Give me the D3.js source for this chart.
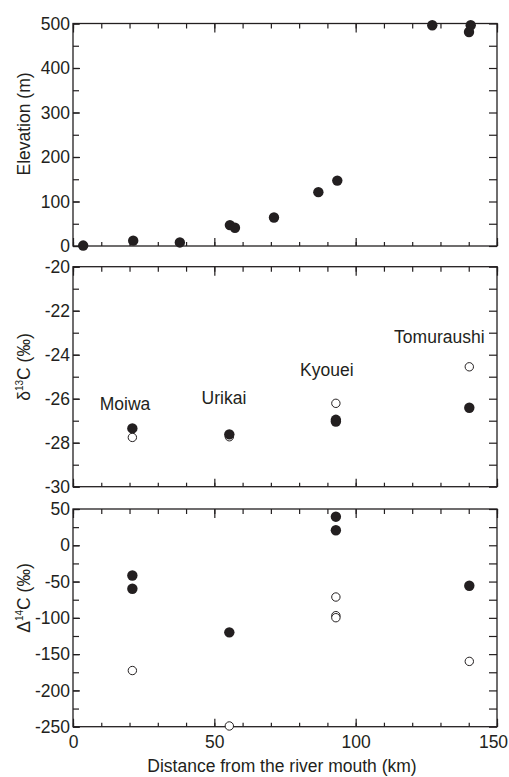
<!DOCTYPE html>
<html>
<head>
<meta charset="utf-8">
<script src="https://cdn.jsdelivr.net/npm/d3@7"></script>
<style>
  body { margin: 0; background: #fff; }
  svg { display: block; font-family: "Liberation Sans", Arial, sans-serif; }
  .axis text { font-size: 17.5px; fill: #231f20; font-family: "Liberation Sans", Arial, sans-serif; }
  .axis line { stroke: #231f20; stroke-width: 1.2; }
  .axis .domain { display: none; }
</style>
</head>
<body>
<svg id="chart" width="509" height="777"></svg>
<script>
// [distance km, value]
const elevation = [[3.6, 1], [21.3, 12], [37.8, 8], [55.5, 47], [57.3, 41], [71.1, 64],
                   [86.8, 121], [93.5, 147], [127.1, 496], [140.7, 496], [140.1, 481]];
const d13cOpen   = [[21, -27.76], [55.3, -27.73], [93, -26.21], [140.2, -24.55]];
const d13cFilled = [[21, -27.35], [55.3, -27.62], [93, -26.96], [93, -27.04], [140.2, -26.41]];
const d14cOpen   = [[21, -172.6], [55.3, -249], [93, -71.3], [93, -97], [93, -99.8], [140.2, -160]];
const d14cFilled = [[21, -41.6], [21, -59.9], [55.3, -120], [93, 39.4], [93, 20.7], [140.2, -55.8]];

const siteNames   = ["Moiwa", "Urikai", "Kyouei", "Tomuraushi"];
const siteLabelKm = [18.4, 53.4, 89.8, 129.6];
const siteLabelD13 = [-26.51, -26.24, -24.97, -23.45];

const xTicks    = [0, 50, 100, 150];
const xMinor    = d3.range(0, 151, 10);
const elevTicks = [0, 100, 200, 300, 400, 500];
const d13Ticks  = [-30, -28, -26, -24, -22, -20];
const d14Ticks  = [-250, -200, -150, -100, -50, 0, 50];

const INK = "#231f20";
const FS = 17.5;
const LEFT = 73, RIGHT = 497;

const svg = d3.select("#chart");
const x = d3.scaleLinear().domain([0, 150]).range([LEFT, RIGHT]);

const panels = [
  { top: 23.5, bottom: 246,   domain: [0, 500],    ticks: elevTicks, step: 50,
    open: [], filled: elevation, title: "elev", titleY: 124 },
  { top: 266.7, bottom: 486.7, domain: [-30, -20], ticks: d13Ticks, step: 1,
    open: d13cOpen, filled: d13cFilled, title: "d13", titleY: 367 },
  { top: 509, bottom: 726.7,  domain: [-250, 50],  ticks: d14Ticks, step: 25,
    open: d14cOpen, filled: d14cFilled, title: "d14", titleY: 598 }
];

panels.forEach((p, i) => {
  const y = d3.scaleLinear().domain(p.domain).range([p.bottom, p.top]);
  const minor = d3.range(p.domain[0], p.domain[1] + p.step / 2, p.step);
  const g = svg.append("g");
  const isLast = i === panels.length - 1;

  // left
  g.append("g").attr("class", "axis").attr("transform", `translate(${LEFT},0)`)
    .call(d3.axisLeft(y).tickValues(minor).tickSize(-6).tickFormat(""));
  g.append("g").attr("class", "axis").attr("transform", `translate(${LEFT},0)`)
    .call(d3.axisLeft(y).tickValues(p.ticks).tickSize(-7).tickPadding(3).tickFormat(d => String(d)));
  // right
  g.append("g").attr("class", "axis").attr("transform", `translate(${RIGHT},0)`)
    .call(d3.axisRight(y).tickValues(minor).tickSize(-8).tickFormat(""));
  // top
  g.append("g").attr("class", "axis").attr("transform", `translate(0,${p.top})`)
    .call(d3.axisTop(x).tickValues(xMinor).tickSize(-5).tickFormat(""));
  g.append("g").attr("class", "axis").attr("transform", `translate(0,${p.top})`)
    .call(d3.axisTop(x).tickValues(xTicks).tickSize(-9).tickFormat(""));
  // bottom
  g.append("g").attr("class", "axis").attr("transform", `translate(0,${p.bottom})`)
    .call(d3.axisBottom(x).tickValues(xMinor).tickSize(-4).tickFormat(""));
  const bx = g.append("g").attr("class", "axis").attr("transform", `translate(0,${p.bottom})`)
    .call(d3.axisBottom(x).tickValues(xTicks).tickSize(-8).tickPadding(9)
      .tickFormat(d => isLast ? String(d) : ""));
  // keep the last label inside the window
  bx.selectAll(".tick text").filter(d => d === 150).attr("dx", -4);

  g.append("rect")
    .attr("x", LEFT).attr("y", p.top)
    .attr("width", RIGHT - LEFT).attr("height", p.bottom - p.top)
    .attr("fill", "none").attr("stroke", INK).attr("stroke-width", 1.3);

  g.selectAll(".open").data(p.open).enter().append("circle")
    .attr("class", "open")
    .attr("cx", d => x(d[0])).attr("cy", d => y(d[1])).attr("r", 4.2)
    .attr("fill", "#fff").attr("stroke", INK).attr("stroke-width", 1);

  g.selectAll(".filled").data(p.filled).enter().append("circle")
    .attr("class", "filled")
    .attr("cx", d => x(d[0])).attr("cy", d => y(d[1])).attr("r", 5.2)
    .attr("fill", INK);

  // y title
  const t = g.append("text")
    .attr("transform", `translate(30,${p.titleY}) rotate(-90)`)
    .attr("text-anchor", "middle")
    .attr("font-size", FS).attr("fill", INK);
  if (p.title === "elev") {
    t.text("Elevation (m)");
  } else {
    t.append("tspan").text(p.title === "d13" ? "δ" : "Δ");
    t.append("tspan").attr("font-size", 10).attr("dy", -7).text(p.title === "d13" ? "13" : "14");
    t.append("tspan").attr("dy", 7).text("C (‰)");
  }

  if (p.title === "d13") {
    g.selectAll(".site").data(siteNames).enter().append("text")
      .attr("class", "site")
      .attr("x", (d, j) => x(siteLabelKm[j]))
      .attr("y", (d, j) => y(siteLabelD13[j]))
      .attr("text-anchor", "middle")
      .attr("font-size", FS).attr("fill", INK)
      .text(d => d);
  }
});

svg.append("text")
  .attr("x", (LEFT + RIGHT) / 2 - 3).attr("y", 772)
  .attr("text-anchor", "middle")
  .attr("font-size", FS).attr("fill", INK)
  .text("Distance from the river mouth (km)");
</script>
</body>
</html>
